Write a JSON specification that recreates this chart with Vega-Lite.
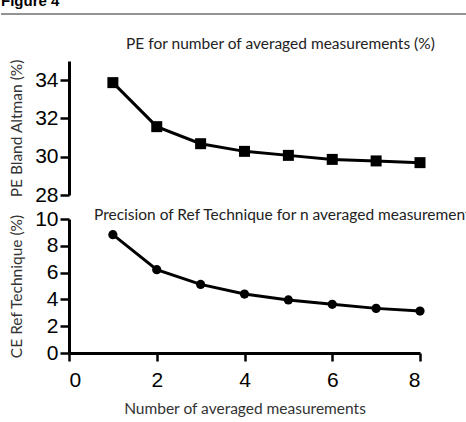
{
  "$schema": "https://vega.github.io/schema/vega-lite/v6.json",
  "padding": {"left": 0, "top": -6, "right": 0, "bottom": 0},
  "background": "white",
  "columns": 1,
  "spacing": 2,
  "datasets": {
    "header": [{"figure": "Figure 4"}],
    "pe": [
      {"n": 1, "pe": 33.87}, {"n": 2, "pe": 31.57}, {"n": 3, "pe": 30.68}, {"n": 4, "pe": 30.28},
      {"n": 5, "pe": 30.07}, {"n": 6, "pe": 29.86}, {"n": 7, "pe": 29.78}, {"n": 8, "pe": 29.69}
    ],
    "ce": [
      {"n": 1, "ce": 8.83}, {"n": 2, "ce": 6.22}, {"n": 3, "ce": 5.12}, {"n": 4, "ce": 4.4},
      {"n": 5, "ce": 3.96}, {"n": 6, "ce": 3.63}, {"n": 7, "ce": 3.33}, {"n": 8, "ce": 3.13}
    ]
  },
  "concat": [
    {
      "width": 351,
      "height": 21,
      "title": {"text": "Figure 4", "anchor": "start", "frame": "group", "dx": -68, "offset": 4, "font": "Liberation Sans", "fontSize": 15, "fontWeight": "bold", "color": "black"},
      "data": {"name": "header"},
      "mark": {"type": "rule", "color": "#6f6f6f", "strokeWidth": 1.5},
      "encoding": {
        "x": {"datum": -1.55, "type": "quantitative", "scale": {"domain": [0, 8]}, "axis": null},
        "x2": {"datum": 9.1},
        "y": {"datum": 0, "type": "quantitative", "scale": {"domain": [0, 1], "reverse": true}, "axis": null}
      }
    },
    {
      "width": 351,
      "height": 134,
      "title": {"text": "PE for number of averaged measurements (%)", "anchor": "start", "frame": "group", "dx": 57, "offset": 6, "font": "Lato", "fontSize": 15.5, "fontWeight": "normal", "color": "#222"},
      "data": {"name": "pe"},
      "encoding": {
        "x": {"field": "n", "type": "quantitative", "scale": {"domain": [0, 8]}, "axis": null},
        "y": {"field": "pe", "type": "quantitative", "scale": {"domain": [28, 35], "nice": false, "zero": false}, "axis": {"values": [28, 30, 32, 34], "title": "PE Bland Altman (%)"}}
      },
      "layer": [
        {"mark": {"type": "line", "color": "black", "strokeWidth": 3}},
        {"mark": {"type": "point", "shape": "square", "filled": true, "size": 121, "color": "black", "opacity": 1}}
      ]
    },
    {
      "width": 351,
      "height": 134,
      "title": {"text": "Precision of Ref Technique for n averaged measurements (%)", "anchor": "start", "frame": "group", "dx": 25, "offset": -15, "font": "Lato", "fontSize": 15.5, "fontWeight": "normal", "color": "#222"},
      "data": {"name": "ce"},
      "encoding": {
        "x": {"field": "n", "type": "quantitative", "scale": {"domain": [0, 8], "nice": false}, "axis": {"values": [0, 2, 4, 6, 8], "title": "Number of averaged measurements", "tickSize": 8, "labelPadding": 8, "titlePadding": 11}},
        "y": {"field": "ce", "type": "quantitative", "scale": {"domain": [0, 10], "nice": false}, "axis": {"values": [0, 2, 4, 6, 8, 10], "title": "CE Ref Technique (%)"}}
      },
      "layer": [
        {"mark": {"type": "line", "color": "black", "strokeWidth": 3}},
        {"mark": {"type": "point", "shape": "circle", "filled": true, "size": 85, "color": "black", "opacity": 1}}
      ]
    }
  ],
  "config": {
    "view": {"stroke": null},
    "axis": {
      "grid": false,
      "domainColor": "black",
      "domainWidth": 3,
      "tickColor": "black",
      "tickWidth": 2.5,
      "tickSize": 9,
      "labelPadding": 2,
      "labelFont": "Liberation Sans",
      "labelFontSize": 21,
      "labelColor": "black",
      "titleFont": "Lato",
      "titleFontSize": 15.5,
      "titleFontWeight": "normal",
      "titleColor": "#333",
      "titlePadding": 10
    },
    "axisX": {"titlePadding": 11}
  }
}
